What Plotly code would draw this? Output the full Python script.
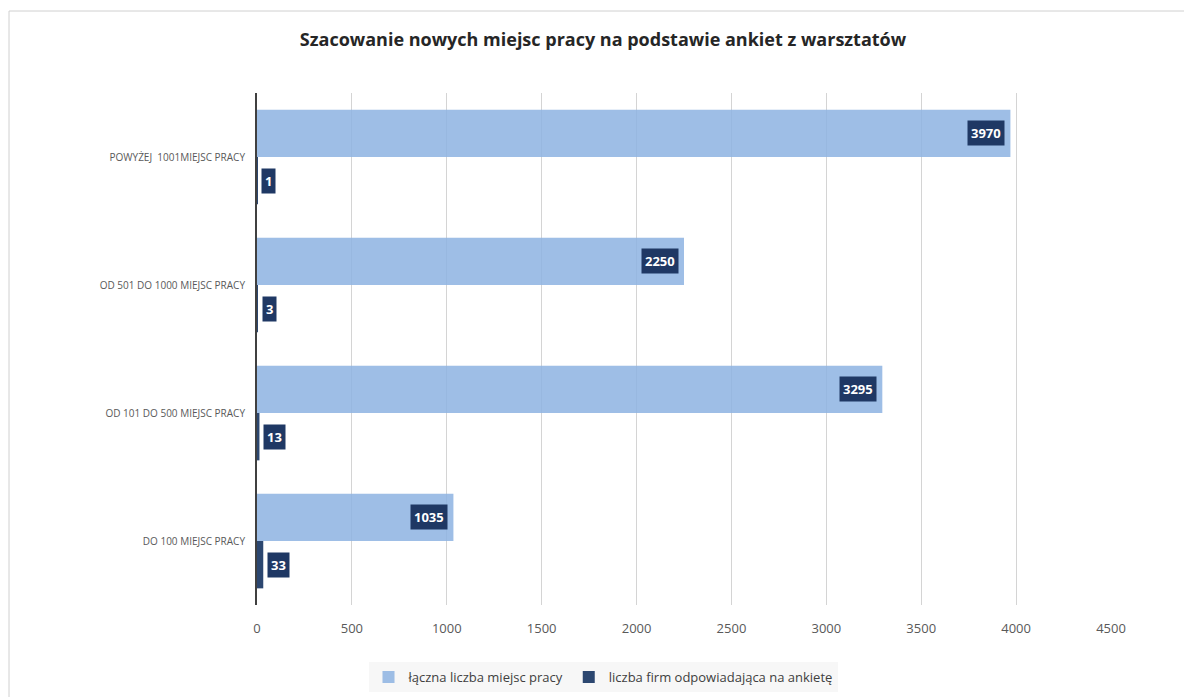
import plotly.graph_objects as go

categories = ["DO 100 MIEJSC PRACY", "OD 101 DO 500 MIEJSC PRACY",
              "OD 501 DO 1000 MIEJSC PRACY", "POWYŻEJ  1001MIEJSC PRACY"]
total_jobs = [1035, 3295, 2250, 3970]
firms = [33, 13, 3, 1]
series_names = ["łączna liczba miejsc pracy", "liczba firm odpowiadająca na ankietę"]
x_ticks = [0, 500, 1000, 1500, 2000, 2500, 3000, 3500, 4000, 4500]

LIGHT = "rgba(141,179,226,0.85)"
DARK = "#2c4770"
LABEL_BG = "#1f3864"
FONT = "Open Sans"

W, H = 1184, 697
ML, MR, MT, MB = 257, 73, 93, 92
PW, PH = W - ML - MR, H - MT - MB

fig = go.Figure()
fig.add_trace(go.Bar(y=categories, x=firms, orientation="h", name=series_names[1],
                     marker=dict(color=DARK, line=dict(width=0))))
fig.add_trace(go.Bar(y=categories, x=total_jobs, orientation="h", name=series_names[0],
                     marker=dict(color=LIGHT, line=dict(width=0))))

ann = []
for c, v in zip(categories, total_jobs):
    ann.append(dict(x=v, y=c, xref="x", yref="y", text=f"<b>{v}</b>", showarrow=False,
                    xanchor="right", yanchor="middle", xshift=-5, yshift=24,
                    bgcolor=LABEL_BG, borderpad=3,
                    font=dict(family=FONT, size=13, color="white")))
for c, v in zip(categories, firms):
    ann.append(dict(x=v, y=c, xref="x", yref="y", text=f"<b>{v}</b>", showarrow=False,
                    xanchor="left", yanchor="middle", xshift=4, yshift=-24,
                    bgcolor=LABEL_BG, borderpad=3,
                    font=dict(family=FONT, size=13, color="white")))

# frame: left, top, bottom sides only (right side lies outside the picture)
fx0 = (9 - ML) / PW
fx1 = (1400 - ML) / PW
fy1 = 1 + (MT - 11) / PH
fy0 = -(730 - MT - PH) / PH
frame_path = f"M {fx1},{fy1} L {fx0},{fy1} L {fx0},{fy0}"

fig.update_layout(
    width=W, height=H,
    margin=dict(l=ML, r=MR, t=MT, b=MB, autoexpand=False),
    paper_bgcolor="white", plot_bgcolor="white",
    barmode="group", bargap=0.26, bargroupgap=0,
    title=dict(text="<b>Szacowanie nowych miejsc pracy na podstawie ankiet z warsztatów</b>",
               x=603 / W, xanchor="center", y=1 - 40 / H, yanchor="middle",
               font=dict(family=FONT, size=18, color="#262626")),
    font=dict(family=FONT, color="#595959"),
    showlegend=True,
    legend=dict(orientation="h", traceorder="reversed", x=(603 - ML) / PW, xanchor="center",
                y=-(677 - (MT + PH)) / PH, yanchor="middle", bgcolor="#f7f7f7",
                font=dict(family=FONT, size=13, color="#404040"),
                itemwidth=30),
    xaxis=dict(range=[0, 4500], tickvals=x_ticks, ticktext=[str(t) for t in x_ticks],
               showgrid=True, gridcolor="#d4d4d4", gridwidth=1, zeroline=False,
               showline=False, ticks="", ticklabelstandoff=14, automargin=False,
               tickfont=dict(family=FONT, size=13, color="#595959")),
    yaxis=dict(categoryorder="array", categoryarray=categories, showgrid=False,
               showline=True, linecolor="#404040", linewidth=2, ticks="",
               ticklabelstandoff=8, automargin=False,
               tickfont=dict(family=FONT, size=10, color="#595959")),
    annotations=ann,
    shapes=[dict(type="path", xref="paper", yref="paper", path=frame_path,
                 line=dict(color="#d0d0d0", width=1), layer="below")],
)

fig.write_html("out.html", config={"displayModeBar": False},
               post_script="document.body.style.margin='0px';document.body.style.overflow='hidden';")
